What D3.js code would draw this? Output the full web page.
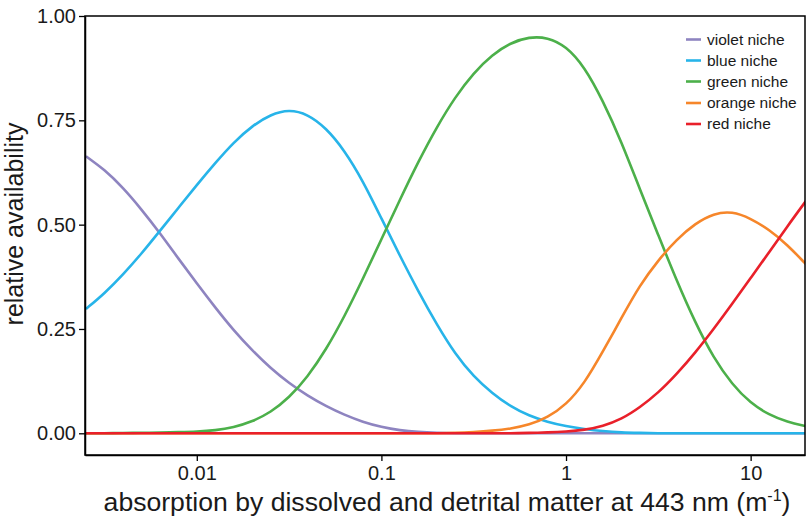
<!DOCTYPE html>
<html><head><meta charset="utf-8">
<script src="https://cdn.jsdelivr.net/npm/d3@7"></script>
<style>
html,body{margin:0;padding:0;background:#fff;}
svg{display:block;font-family:"Liberation Sans",Arial,Helvetica,sans-serif;}
</style></head>
<body><svg id="chart" width="807" height="519"></svg>
<script>
// absorption (m^-1), log-spaced sample positions
const absorption = [0.00251,0.00316,0.00398,0.00501,0.00631,0.00794,0.01,0.0126,0.0158,0.02,
  0.0251,0.0316,0.0398,0.0501,0.0631,0.0794,0.1,0.126,0.158,0.2,
  0.251,0.316,0.398,0.501,0.631,0.794,1,1.26,1.58,2,
  2.51,3.16,3.98,5.01,6.31,7.94,10,12.6,15.8,19.95];
const violet = [0.664,0.632,0.589,0.537,0.48,0.419,0.359,0.301,0.247,0.198,
  0.156,0.12,0.09,0.065,0.044,0.027,0.015,0.007,0.003,0.001,
  0,0,0,0,0,0,0,0,0,0, 0,0,0,0,0,0,0,0,0,0];
const blue = [0.298,0.335,0.38,0.43,0.485,0.54,0.595,0.648,0.697,0.737,
  0.764,0.776,0.765,0.732,0.678,0.605,0.515,0.425,0.341,0.26,
  0.19,0.136,0.096,0.064,0.042,0.027,0.017,0.01,0.005,0.002,
  0.001,0,0,0,0,0,0,0,0,0];
const green = [0,0,0.001,0.001,0.002,0.003,0.004,0.007,0.014,0.028,
  0.05,0.085,0.135,0.2,0.28,0.37,0.465,0.56,0.65,0.735,
  0.806,0.864,0.907,0.936,0.95,0.949,0.928,0.878,0.798,0.698,
  0.585,0.475,0.365,0.265,0.18,0.117,0.072,0.044,0.027,0.017];
const orange = [0,0,0,0,0,0,0,0,0,0,
  0,0,0,0,0,0,0,0,0,0,
  0.001,0.003,0.006,0.011,0.02,0.038,0.068,0.12,0.195,0.277,
  0.355,0.415,0.465,0.503,0.527,0.532,0.515,0.488,0.452,0.405];
const red = [0,0,0,0,0,0,0,0,0,0,
  0,0,0,0,0,0,0,0,0,0,
  0,0,0,0,0.001,0.002,0.004,0.008,0.017,0.034,
  0.062,0.097,0.142,0.193,0.25,0.31,0.372,0.434,0.496,0.557];

const seriesNames = ["violet niche","blue niche","green niche","orange niche","red niche"];
const seriesValues = [violet, blue, green, orange, red];
const seriesColors = ["#8e84c0","#27b4e9","#4cb04a","#f6862a","#e9202a"];
const xTicks = [0.01, 0.1, 1, 10];
const xTickLabels = ["0.01","0.1","1","10"];
const yTicks = [0, 0.25, 0.5, 0.75, 1];

const svg = d3.select("#chart");
const L = 85, R = 805, T = 16, B = 455;
const x = d3.scaleLog().domain([0.00248, 19.7]).range([L, R]);
const y = d3.scaleLinear().domain([-0.052, 1.0]).range([B, T]);

svg.append("defs").append("clipPath").attr("id","clip")
  .append("rect").attr("x",L).attr("y",T).attr("width",R-L).attr("height",B-T);

const line = d3.line().x(d=>x(d[0])).y(d=>y(d[1])).curve(d3.curveBasis);
const g = svg.append("g").attr("clip-path","url(#clip)");
seriesValues.forEach((vals,i)=>{
  g.append("path").datum(absorption.map((a,j)=>[a, vals[j]]))
   .attr("d", line).attr("fill","none").attr("stroke", seriesColors[i])
   .attr("stroke-width", 2.6).attr("stroke-linejoin","round");
});

// frame
svg.append("rect").attr("x",L).attr("y",T).attr("width",R-L).attr("height",B-T)
  .attr("fill","none").attr("stroke","#000").attr("stroke-width",1.5);

// axes
const xAxis = d3.axisBottom(x).tickValues(xTicks).tickFormat((d,i)=>xTickLabels[i])
  .tickSize(6).tickSizeOuter(0).tickPadding(5);
const xa = svg.append("g").attr("transform",`translate(0,${B})`).call(xAxis);
const yAxis = d3.axisLeft(y).tickValues(yTicks).tickFormat(d3.format(".2f"))
  .tickSize(6).tickSizeOuter(0).tickPadding(3);
const ya = svg.append("g").attr("transform",`translate(${L},0)`).call(yAxis);
[xa, ya].forEach(a=>{
  a.select(".domain").attr("stroke","#000").attr("stroke-width",1.5);
  a.selectAll(".tick line").attr("stroke","#000").attr("stroke-width",1.3);
  a.selectAll(".tick text").attr("fill","#1a1a1a").style("font-size","20px")
    .style("font-family","'Liberation Sans',Arial,sans-serif");
});

// axis titles
const xt = svg.append("text").attr("x", 447).attr("y", 511).attr("text-anchor","middle")
  .attr("fill","#1a1a1a").style("font-size","26.6px");
xt.append("tspan").text("absorption by dissolved and detrital matter at 443 nm (m");
xt.append("tspan").attr("dy",-10).style("font-size","16px").text("-1");
xt.append("tspan").attr("dy",10).text(")");

svg.append("text").attr("transform","translate(23,224) rotate(-90)").attr("text-anchor","middle")
  .attr("fill","#1a1a1a").style("font-size","25px").text("relative availability");

// legend
const lg = svg.append("g");
const legY = [39.5, 60.5, 81.5, 103, 124];
seriesNames.forEach((n,i)=>{
  lg.append("line").attr("x1",686).attr("x2",701).attr("y1",legY[i]).attr("y2",legY[i])
    .attr("stroke",seriesColors[i]).attr("stroke-width",2.6);
  lg.append("text").attr("x",707).attr("y",legY[i]).attr("dy","0.35em")
    .attr("fill","#1a1a1a").style("font-size","15.5px").text(n);
});
</script></body></html>
